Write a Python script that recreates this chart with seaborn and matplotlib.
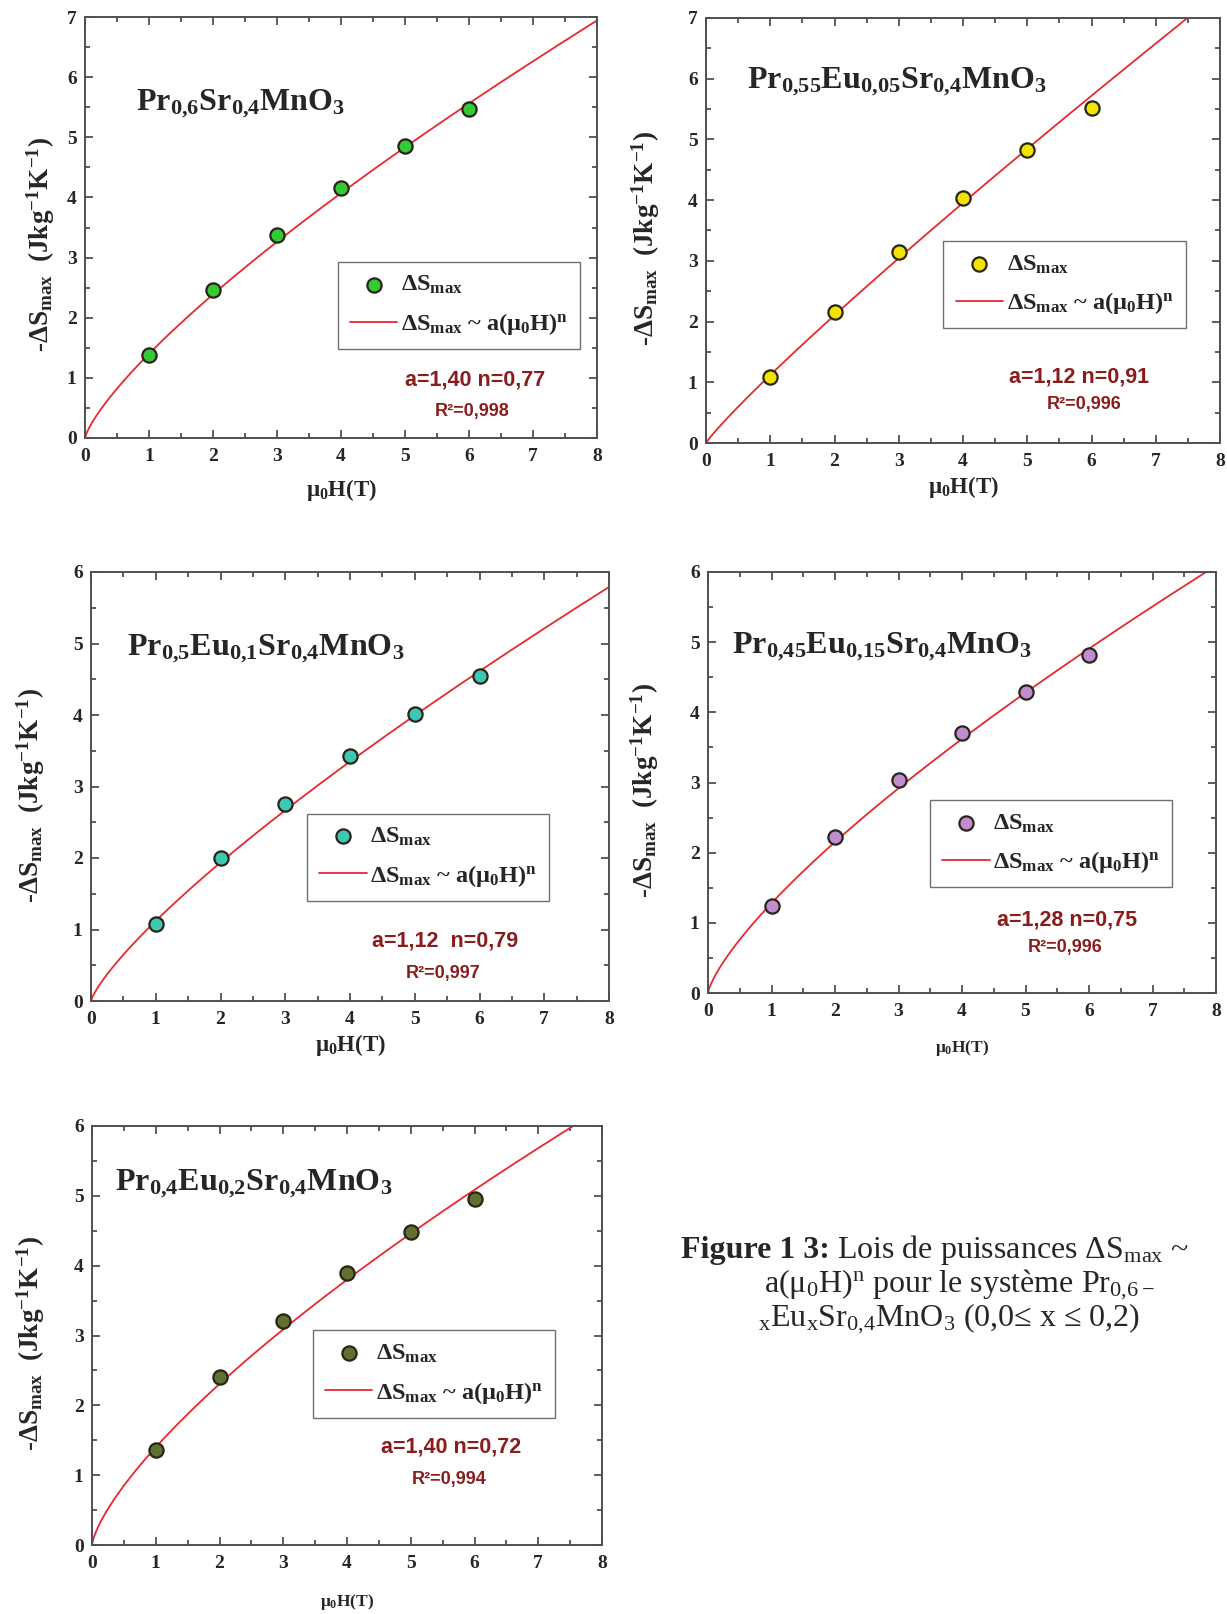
import numpy as np
import pandas as pd
import matplotlib
matplotlib.use("Agg")
import matplotlib.pyplot as plt
from matplotlib.ticker import MultipleLocator
import seaborn as sns

# ---------------- data ----------------
field_T = [1, 2, 3, 4, 5, 6]
ds_pr06 = [1.38, 2.46, 3.37, 4.16, 4.85, 5.47]
ds_eu005 = [1.08, 2.16, 3.15, 4.03, 4.82, 5.52]
ds_eu010 = [1.08, 2.00, 2.76, 3.42, 4.02, 4.55]
ds_eu015 = [1.24, 2.22, 3.03, 3.70, 4.29, 4.82]
ds_eu020 = [1.36, 2.40, 3.21, 3.89, 4.48, 4.95]

fit_a = [1.40, 1.12, 1.12, 1.28, 1.40]
fit_n = [0.77, 0.91, 0.79, 0.75, 0.72]
fit_labels = ["a=1,40 n=0,77", "a=1,12 n=0,91", "a=1,12  n=0,79",
              "a=1,28 n=0,75", "a=1,40 n=0,72"]
r2_labels = ["R²=0,998", "R²=0,996", "R²=0,997", "R²=0,996", "R²=0,994"]
compositions = [
    r"Pr$_{\mathbf{0{,}6}}$Sr$_{\mathbf{0{,}4}}$MnO$_{\mathbf{3}}$",
    r"Pr$_{\mathbf{0{,}55}}$Eu$_{\mathbf{0{,}05}}$Sr$_{\mathbf{0{,}4}}$MnO$_{\mathbf{3}}$",
    r"Pr$_{\mathbf{0{,}5}}$Eu$_{\mathbf{0{,}1}}$Sr$_{\mathbf{0{,}4}}$MnO$_{\mathbf{3}}$",
    r"Pr$_{\mathbf{0{,}45}}$Eu$_{\mathbf{0{,}15}}$Sr$_{\mathbf{0{,}4}}$MnO$_{\mathbf{3}}$",
    r"Pr$_{\mathbf{0{,}4}}$Eu$_{\mathbf{0{,}2}}$Sr$_{\mathbf{0{,}4}}$MnO$_{\mathbf{3}}$",
]
series = [ds_pr06, ds_eu005, ds_eu010, ds_eu015, ds_eu020]
y_max = [7, 7, 6, 6, 6]
marker_colors = ["#35c935", "#f0e400", "#3cc9b4", "#c08ed0", "#5f7030"]

# ---------------- style ----------------
sns.set_style("ticks")
plt.rcParams["font.family"] = ["Liberation Serif", "DejaVu Serif"]
plt.rcParams["mathtext.fontset"] = "custom"
plt.rcParams["mathtext.rm"] = "Liberation Serif"
plt.rcParams["mathtext.it"] = "Liberation Serif:italic"
plt.rcParams["mathtext.bf"] = "Liberation Serif:bold"

W, H = 1227, 1614
fig = plt.figure(figsize=(W / 100, H / 100), dpi=100)

# axes boxes in pixels: left, right, top, bottom
boxes = [
    (85, 597, 17, 438),
    (706, 1220, 18, 443),
    (91, 609, 572, 1001),
    (708, 1216, 572, 993),
    (92, 602, 1126, 1545),
]
# layout of in-axes annotations (axes fractions)
title_pos = [(0.10, 0.78), (0.08, 0.835), (0.069, 0.807), (0.048, 0.807), (0.046, 0.848)]
legend_pos = [(0.494, 0.418), (0.462, 0.475), (0.417, 0.437), (0.437, 0.458), (0.433, 0.512)]
fit_pos = [(0.761, 0.137), (0.726, 0.155), (0.683, 0.14), (0.707, 0.173), (0.705, 0.233)]
r2_pos = [(0.757, 0.063), (0.735, 0.09), (0.68, 0.063), (0.703, 0.107), (0.70, 0.157)]
xlabel_off = [52, 44, 44, 55, 57]       # px below axis (label centre)
xlabel_size = [16.5, 16.5, 16.5, 12.5, 12.5]
ylabel_off = [44, 60, 60, 63, 61]       # px left of axis (label centre)
ylabel_y = [0.46, 0.48, 0.48, 0.48, 0.48]

line_color = "#e8282e"
ann_color = "#8b1c1c"
spine_color = "#505050"

x_fit = np.linspace(0, 8, 400)

for i in range(5):
    L, R, T, B = boxes[i]
    wpx, hpx = R - L, B - T
    ax = fig.add_axes([L / W, 1 - B / H, wpx / W, hpx / H])
    df_pts = pd.DataFrame({"H": field_T, "S": series[i]})
    df_fit = pd.DataFrame({"H": x_fit, "S": fit_a[i] * x_fit ** fit_n[i]})

    sns.lineplot(data=df_fit, x="H", y="S", ax=ax, color=line_color, lw=1.3,
                 label=r"ΔS$_{\mathbf{max}}$ ~ a(μ$_{\mathbf{0}}$H)$^{\mathbf{n}}$",
                 zorder=2, estimator=None, sort=False)
    sns.scatterplot(data=df_pts, x="H", y="S", ax=ax, color=marker_colors[i],
                    edgecolor="#2a2418", linewidth=1.6, s=105, zorder=3,
                    label=r"ΔS$_{\mathbf{max}}$")

    ax.set_xlim(0, 8)
    ax.set_ylim(0, y_max[i])
    ax.xaxis.set_major_locator(MultipleLocator(1))
    ax.xaxis.set_minor_locator(MultipleLocator(0.5))
    ax.yaxis.set_major_locator(MultipleLocator(1))
    ax.yaxis.set_minor_locator(MultipleLocator(0.5))
    ax.tick_params(which="both", direction="in", top=True, right=True,
                   color=spine_color, width=1.3)
    ax.tick_params(which="major", length=6, labelsize=14)
    ax.tick_params(axis="y", which="major", pad=6)
    ax.tick_params(axis="x", which="major", pad=7)
    ax.tick_params(which="minor", length=3.5)
    for lab in ax.get_xticklabels() + ax.get_yticklabels():
        lab.set_fontweight("bold")
    for sp in ax.spines.values():
        sp.set_color(spine_color)
        sp.set_linewidth(1.4)

    ax.set_xlabel(r"μ$_{\mathbf{0}}$H(T)", fontsize=xlabel_size[i], fontweight="bold")
    ax.xaxis.set_label_coords(0.5, -xlabel_off[i] / hpx)
    ax.xaxis.label.set_va("center")
    ax.set_ylabel(r"-ΔS$_{\mathbf{max}}$  (Jkg$^{\mathbf{-1}}$K$^{\mathbf{-1}}$)",
                  fontsize=19.5, fontweight="bold")
    ax.yaxis.set_label_coords(-ylabel_off[i] / wpx, ylabel_y[i])
    ax.yaxis.label.set_va("center")

    ax.text(title_pos[i][0], title_pos[i][1], compositions[i], transform=ax.transAxes,
            fontsize=23, fontweight="bold", ha="left", va="baseline")

    handles, labels = ax.get_legend_handles_labels()
    order = [1, 0]
    leg = ax.legend([handles[j] for j in order], [labels[j] for j in order],
                    loc="upper left", bbox_to_anchor=legend_pos[i], borderaxespad=0,
                    frameon=True, fancybox=False, framealpha=1,
                    edgecolor="#707070", handlelength=1.95, borderpad=0.5,
                    labelspacing=0.6, handletextpad=0.15,
                    prop={"weight": "bold", "size": 17.5, "family": "Liberation Serif"})
    leg.get_frame().set_linewidth(1.0)

    ax.text(fit_pos[i][0], fit_pos[i][1], fit_labels[i], transform=ax.transAxes,
            fontsize=15.5, fontweight="bold", color=ann_color, ha="center", va="center",
            family="Liberation Sans")
    ax.text(r2_pos[i][0], r2_pos[i][1], r2_labels[i], transform=ax.transAxes,
            fontsize=13, fontweight="bold", color=ann_color, ha="center", va="center",
            family="Liberation Sans")

# ---------------- caption ----------------
def ftext(px, py, s, **kw):
    fig.text(px / W, 1 - py / H, s, va="baseline", ha="left", fontsize=23, **kw)

ftext(681, 1258, "Figure 1 3:", fontweight="bold")
ftext(837, 1258, r"Lois de puissances ΔS$_{\mathrm{max}}$ ~")
ftext(764, 1292, r"a(μ$_{\mathrm{0}}$H)$^{\mathrm{n}}$ pour le système Pr$_{\mathrm{0{,}6-}}$")
ftext(758, 1326, r"$_{\mathrm{x}}$Eu$_{\mathrm{x}}$Sr$_{\mathrm{0{,}4}}$MnO$_{\mathrm{3}}$ (0,0≤ x ≤ 0,2)")

fig.savefig("out.png", dpi=100)
